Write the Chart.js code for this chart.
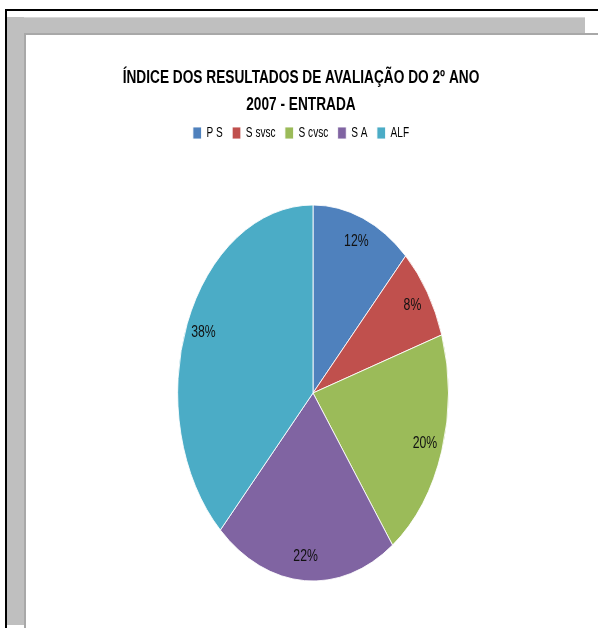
<!DOCTYPE html>
<html>
<head>
<meta charset="utf-8">
<script src="https://cdn.jsdelivr.net/npm/chart.js@4"></script>
<style>
  html, body { margin: 0; padding: 0; background: #fff; overflow: hidden; }
  .frame { position: absolute; }
  #ink-top { left: 5px; top: 9px; width: 593px; height: 2px; background: #000; }
  #ink-left { left: 5px; top: 9px; width: 2px; height: 619px; background: #000; }
  #shade-top { left: 7px; top: 17px; width: 578px; height: 16px; background: #bfbfbf; border-top: 1px solid #d6d6d6; }
  #shade-left { left: 7px; top: 17px; width: 17px; height: 608px; background: #bfbfbf; }
  #edge-top { left: 24px; top: 33px; width: 574px; height: 2px; background: #a8a8a8; }
  #edge-left { left: 24px; top: 33px; width: 2px; height: 595px; background: #a8a8a8; }
  #chart { position: absolute; left: 0; top: 0; z-index: 1; }
</style>
</head>
<body>
<div class="frame" id="ink-top"></div>
<div class="frame" id="ink-left"></div>
<div class="frame" id="shade-top"></div>
<div class="frame" id="shade-left"></div>
<div class="frame" id="edge-top"></div>
<div class="frame" id="edge-left"></div>
<canvas id="chart" width="598" height="628"></canvas>
<script>
const titleLines = ["ÍNDICE DOS RESULTADOS DE AVALIAÇÃO DO 2º ANO", "2007 - ENTRADA"];
const labels = ["P S", "S svsc", "S cvsc", "S A", "ALF"];
const shares = [12, 8, 20, 22, 38];
const colors = ["#4F81BD", "#C0504D", "#9BBB59", "#8064A2", "#4BACC6"];

const FONT = '"Liberation Sans", Arial, sans-serif';
const SQUEEZE = 0.72;          // horizontal squeeze applied to the whole drawing
const TEXT_CX = 301;           // x where title / legend centre lands
const PIE_CX = 313, PIE_CY = 393, PIE_R = 188;

// Squeezes everything horizontally (narrow title, oval pie) and
// writes the percentage on each slice.
const squeeze = {
  id: "squeeze",
  beforeDraw(chart) {
    const { ctx, chartArea } = chart;
    const mid = (chartArea.left + chartArea.right) / 2;
    ctx.save();
    ctx.translate(TEXT_CX, 0);
    ctx.scale(SQUEEZE, 1);
    ctx.translate(-mid, 0);
  },
  beforeDatasetsDraw(chart) {
    const { ctx, chartArea } = chart;
    const cy = (chartArea.top + chartArea.bottom) / 2;
    ctx.save();
    ctx.translate((PIE_CX - TEXT_CX) / SQUEEZE, PIE_CY - cy);
  },
  afterDatasetsDraw(chart) {
    const ctx = chart.ctx;
    const meta = chart.getDatasetMeta(0);
    ctx.font = "17px " + FONT;
    ctx.fillStyle = "#111";
    ctx.textAlign = "center";
    ctx.textBaseline = "middle";
    meta.data.forEach((arc, i) => {
      const p = arc.getProps(["x", "y", "startAngle", "endAngle", "outerRadius"], true);
      const a = (p.startAngle + p.endAngle) / 2;
      const r = p.outerRadius * 0.87;
      ctx.fillText(shares[i] + "%", p.x + Math.cos(a) * r, p.y + Math.sin(a) * r);
    });
    ctx.restore();
  },
  afterDraw(chart) {
    chart.ctx.restore();
  },
};

new Chart(document.getElementById("chart"), {
  type: "pie",
  data: {
    labels: labels,
    datasets: [{
      data: shares,
      backgroundColor: colors,
      borderColor: "#ffffff",
      borderWidth: 1,
      radius: PIE_R,
    }],
  },
  options: {
    responsive: false,
    animation: false,
    events: [],
    layout: { padding: 0 },
    plugins: {
      title: {
        display: true,
        text: titleLines,
        color: "#000",
        font: { family: FONT, size: 19, weight: "bold", lineHeight: "27px" },
        padding: { top: 64, bottom: -5 },
      },
      legend: {
        position: "top",
        labels: {
          boxWidth: 12,
          boxHeight: 12,
          padding: 13,
          color: "#000",
          font: { family: FONT, size: 14 },
        },
      },
      tooltip: { enabled: false },
    },
  },
  plugins: [squeeze],
});
</script>
</body>
</html>
